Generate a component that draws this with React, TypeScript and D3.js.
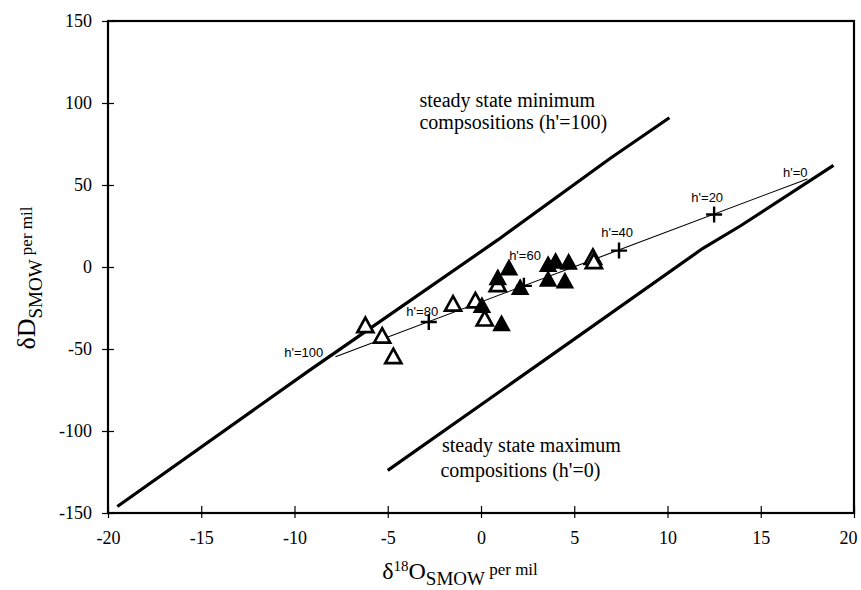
import * as d3 from "d3";
import React, { useRef, useEffect } from "react";

var margin = { top: 21, right: 7, bottom: 77, left: 108 },
  width = 861 - margin.left - margin.right,
  height = 590 - margin.top - margin.bottom;

const serif = "'Liberation Serif', 'Times New Roman', serif";
const sans = "'Liberation Sans', Arial, sans-serif";

// axis ticks
const xTicks = [-20, -15, -10, -5, 0, 5, 10, 15, 20];
const yTicks = [-150, -100, -50, 0, 50, 100, 150];

// steady state minimum (h'=100) line
const minLineX = [-19.5, -9.2, 0.9, 6.9, 10.1];
const minLineY = [-146, -63, 16.5, 66, 91];

// steady state maximum (h'=0) line
const maxLineX = [-5.0, 5, 11.9, 13.9, 18.9];
const maxLineY = [-124, -44, 11.4, 25, 62];

// h' line, h'=100 -> h'=0
const hLineX = [-7.8, 17.5];
const hLineY = [-54.7, 53.7];

// crosses on the h' line
const crossX = [-2.8, 2.3, 7.4, 12.5];
const crossY = [-33.5, -11.5, 10, 32];

// h' labels
const hLabels = ["h'=100", "h'=80", "h'=60", "h'=40", "h'=20", "h'=0"];
const hLabelX = [-9.5, -3.15, 2.36, 7.3, 12.13, 16.85];
const hLabelY = [-52.4, -26.8, 7.3, 21.3, 42.7, 57.9];

// samples
const openX = [-6.2, -5.3, -4.7, -1.5, -0.3, 0.2, 0.9, 6.0, 6.05];
const openY = [-36, -42.5, -55, -23, -21, -32, -11, 5.5, 3];
const filledX = [0.05, 1.1, 0.9, 1.5, 2.1, 3.6, 4.0, 4.7, 3.6, 4.5];
const filledY = [-24, -35, -7, -1, -13, 1, 3, 2.5, -8, -9];

function Chart() {
  const ref = useRef(null);

  useEffect(() => {
    d3.select(ref.current).selectAll("*").remove();
    draw();
  }, []);

  const draw = () => {
    const svg = d3
      .select(ref.current)
      .append("g")
      .attr("transform", `translate(${margin.left},${margin.top})`);

    var x = d3.scaleLinear().domain([-20, 20]).range([0, width]);
    var y = d3.scaleLinear().domain([-150, 150]).range([height, 0]);

    // frame
    svg
      .append("rect")
      .attr("x", 0)
      .attr("y", 0)
      .attr("width", width)
      .attr("height", height)
      .attr("fill", "none")
      .attr("stroke", "#000")
      .attr("stroke-width", 2.2);

    // x axis
    const xa = svg
      .append("g")
      .attr("transform", "translate(0," + height + ")")
      .call(
        d3
          .axisBottom(x)
          .tickValues(xTicks)
          .tickSizeInner(-7)
          .tickSizeOuter(0)
          .tickPadding(18)
          .tickFormat((d) => String(d))
      );
    xa.select(".domain").remove();
    xa.selectAll("line").attr("y1", 5).attr("stroke-width", 1.2);
    xa.selectAll("text")
      .style("font-family", serif)
      .style("font-size", "18px")
      .attr("fill", "#000")
      .attr("dx", (d) => (d === 20 ? -6 : 0));

    // y axis
    const ya = svg
      .append("g")
      .call(
        d3
          .axisLeft(y)
          .tickValues(yTicks)
          .tickSizeInner(-6)
          .tickSizeOuter(0)
          .tickPadding(16)
          .tickFormat((d) => String(d))
      );
    ya.select(".domain").remove();
    ya.selectAll("line").attr("x1", -6).attr("stroke-width", 1.2);
    ya.selectAll("text")
      .style("font-family", serif)
      .style("font-size", "18px")
      .attr("fill", "#000");

    const line = d3
      .line()
      .x((d) => x(d[0]))
      .y((d) => y(d[1]));

    // thick lines
    svg
      .append("path")
      .datum(minLineX.map((v, i) => [v, minLineY[i]]))
      .attr("d", line)
      .attr("fill", "none")
      .attr("stroke", "#000")
      .attr("stroke-width", 3.2);
    svg
      .append("path")
      .datum(maxLineX.map((v, i) => [v, maxLineY[i]]))
      .attr("d", line)
      .attr("fill", "none")
      .attr("stroke", "#000")
      .attr("stroke-width", 3.2);

    // h' line
    svg
      .append("path")
      .datum(hLineX.map((v, i) => [v, hLineY[i]]))
      .attr("d", line)
      .attr("fill", "none")
      .attr("stroke", "#000")
      .attr("stroke-width", 1.1);

    // crosses
    svg
      .selectAll(".cross")
      .data(crossX)
      .enter()
      .append("path")
      .attr("d", (d, i) => {
        const cx = x(d),
          cy = y(crossY[i]);
        return `M${cx - 8},${cy}H${cx + 8}M${cx},${cy - 8}V${cy + 8}`;
      })
      .attr("stroke", "#000")
      .attr("stroke-width", 2.4);

    // h' labels
    svg
      .selectAll(".hlab")
      .data(hLabels)
      .enter()
      .append("text")
      .attr("x", (d, i) => x(hLabelX[i]))
      .attr("y", (d, i) => y(hLabelY[i]))
      .attr("dy", "0.35em")
      .attr("text-anchor", "middle")
      .style("font-family", sans)
      .style("font-size", "13px")
      .text((d) => d);

    // triangles
    const tri = (cx, cy) =>
      `M${cx},${cy - 8.5}L${cx + 8},${cy + 6}L${cx - 8},${cy + 6}Z`;

    svg
      .selectAll(".open")
      .data(openX)
      .enter()
      .append("path")
      .attr("d", (d, i) => tri(x(d), y(openY[i])))
      .attr("fill", "#fff")
      .attr("stroke", "#000")
      .attr("stroke-width", 2.7)
      .attr("stroke-linejoin", "miter");

    svg
      .selectAll(".filled")
      .data(filledX)
      .enter()
      .append("path")
      .attr("d", (d, i) => tri(x(d), y(filledY[i])))
      .attr("fill", "#000")
      .attr("stroke", "#000")
      .attr("stroke-width", 1.5);

    // annotations
    const note1 = svg
      .append("text")
      .attr("x", x(-3.3))
      .attr("y", y(101.8))
      .attr("dy", "0.35em")
      .style("font-family", serif)
      .style("font-size", "20px");
    note1.append("tspan").text("steady state minimum");
    note1.append("tspan").attr("x", x(-3.3)).attr("dy", 22).text("compsositions (h'=100)");

    const note2 = svg
      .append("text")
      .attr("x", x(7.5))
      .attr("y", y(-108.5))
      .attr("dy", "0.35em")
      .attr("text-anchor", "end")
      .style("font-family", serif)
      .style("font-size", "20px");
    note2.append("tspan").text("steady state maximum");
    note2.append("tspan").attr("x", x(6.4)).attr("dy", 25).text("compositions (h'=0)");

    // axis titles
    const xt = d3
      .select(ref.current)
      .append("text")
      .attr("x", 460)
      .attr("y", 579)
      .attr("text-anchor", "middle")
      .style("font-family", serif)
      .style("font-size", "24px");
    xt.append("tspan").text("\u03b4");
    xt.append("tspan").attr("dy", -8).style("font-size", "15px").text("18");
    xt.append("tspan").attr("dy", 8).text("O");
    xt.append("tspan").attr("dy", 6).style("font-size", "19px").text("SMOW");
    xt.append("tspan").attr("dy", -10).style("font-size", "17px").text(" per mil");

    const yt = d3
      .select(ref.current)
      .append("text")
      .attr("transform", "translate(35,278)rotate(-90)")
      .attr("text-anchor", "middle")
      .style("font-family", serif)
      .style("font-size", "26px");
    yt.append("tspan").text("\u03b4D");
    yt.append("tspan").attr("dy", 7).style("font-size", "19px").text("SMOW");
    yt.append("tspan").attr("dy", -10).style("font-size", "17px").text(" per mil");
  };

  return (
    <svg
      ref={ref}
      width={861}
      height={590}
      style={{ position: "absolute", left: 0, top: 0, background: "#fff" }}
    ></svg>
  );
}

export default function App() {
  return <Chart />;
}
